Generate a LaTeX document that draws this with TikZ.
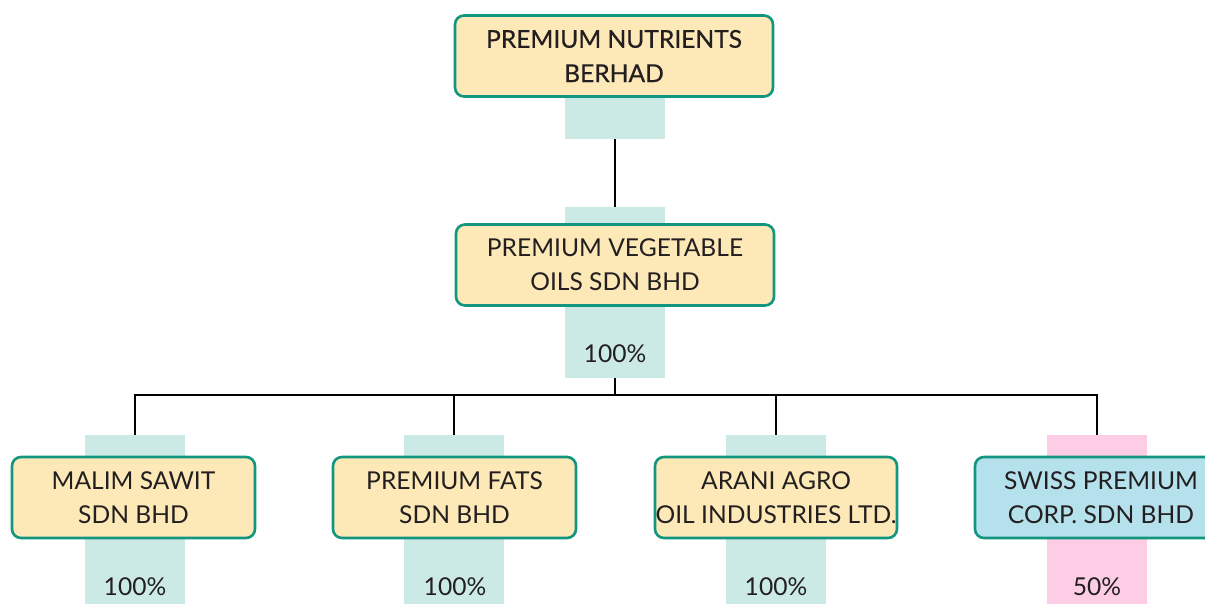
\documentclass[tikz,border=0pt]{standalone}
\usepackage{fontspec}
\setmainfont{Lato}
\newlength{\du}
\setlength{\du}{0.02cm}
\definecolor{boxline}{RGB}{19,150,128}
\definecolor{boxfill}{RGB}{253,232,183}
\definecolor{swissfill}{RGB}{181,225,237}
\definecolor{bandteal}{RGB}{204,234,229}
\definecolor{bandpink}{RGB}{252,205,229}
\definecolor{inktext}{RGB}{35,31,32}
\tikzset{
  company/.style={draw=boxline, line width=2.6\du, fill=boxfill, rounded corners=9\du,
    minimum height=81\du, inner sep=0pt, align=center, text=inktext,
    font=\fontsize{14}{19.5}\selectfont},
  band/.style={fill=bandteal, minimum width=100\du, inner sep=0pt},
  share/.style={text=inktext, inner sep=0pt, font=\fontsize{14}{16}\selectfont},
  link/.style={line width=2.4\du, black},
}

\begin{document}
\begin{tikzpicture}[x=1\du, y=-1\du]
\useasboundingbox (0,0) rectangle (1205,604);
\clip (0,0) rectangle (1205,604);
% shareholding bands
\node[band, minimum height=42\du] (topband) at (615,118) {};
\node[band, minimum height=171\du] (midband) at (615,292.5) {};
\node[band, minimum height=175\du] (malimband) at (135,522.5) {};
\node[band, minimum height=175\du] (fatsband) at (454,522.5) {};
\node[band, minimum height=175\du] (araniband) at (776,522.5) {};
\node[band, fill=bandpink, minimum height=175\du] (swissband) at (1097,522.5) {};
% links
\coordinate (bus) at (615,395);
\draw[link] (topband.south) -- (midband.north);
\draw[link] (midband.south) -- (bus);
\draw[link] (malimband.north) |- (bus) -| (swissband.north);
\draw[link] (fatsband.north) |- (bus);
\draw[link] (araniband.north) |- (bus);
% companies
\node[company, minimum width=318\du] (parent) at (614,56) {\addfontfeature{FakeBold=0.6}PREMIUM NUTRIENTS\\\addfontfeature{FakeBold=0.6}BERHAD};
\node[company, minimum width=318\du] (pvo) at (615,265) {PREMIUM VEGETABLE\\OILS SDN BHD};
\node[company, minimum width=243\du] (malim) at (133.5,497.5) {MALIM SAWIT\\SDN BHD};
\node[company, minimum width=243\du] (fats) at (454.5,497.5) {PREMIUM FATS\\SDN BHD};
\node[company, minimum width=242\du] (arani) at (776,497.5) {ARANI AGRO\\OIL INDUSTRIES LTD.};
\node[company, fill=swissfill, minimum width=252\du] (swiss) at (1101,497.5) {SWISS PREMIUM\\CORP. SDN BHD};
% percentages
\node[share] (pvoshare) at (615,354) {100\%};
\node[share] (malimshare) at (135,587) {100\%};
\node[share] (fatsshare) at (455,587) {100\%};
\node[share] (aranishare) at (776,587) {100\%};
\node[share] (swissshare) at (1097,587) {50\%};
\end{tikzpicture}
\end{document}
